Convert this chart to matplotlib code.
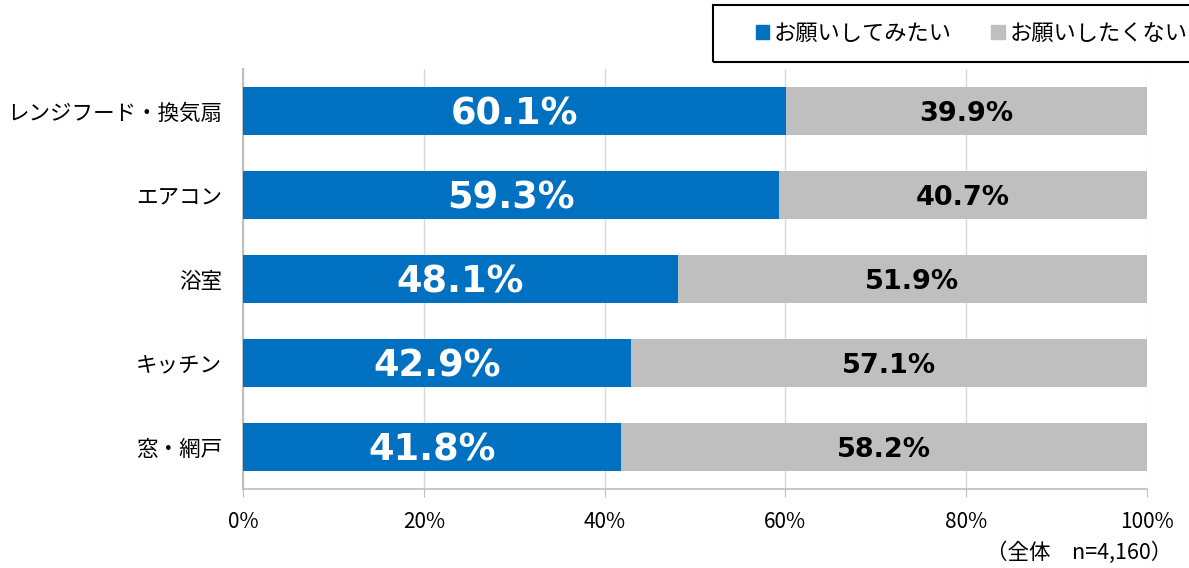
import numpy as np
import matplotlib
matplotlib.use("Agg")
from matplotlib import pyplot as plt
from matplotlib.patches import Patch, Rectangle

plt.rcParams['font.family'] = ['Noto Sans CJK JP', 'DejaVu Sans']

categories = ["レンジフード・換気扇", "エアコン", "浴室", "キッチン", "窓・網戸"]
want = [60.1, 59.3, 48.1, 42.9, 41.8]
not_want = [39.9, 40.7, 51.9, 57.1, 58.2]
series_names = ["お願いしてみたい", "お願いしたくない"]
xticks = [0, 20, 40, 60, 80, 100]
note = "（全体　n=4,160）"

blue = "#0070C0"
gray = "#BFBFBF"

fig = plt.figure(figsize=(11.89, 5.68), dpi=100)
ax = fig.add_axes([243/1189, 1-489/568, (1147-243)/1189, 420/568])

y = np.arange(len(categories))
ax.barh(y, want, height=0.56, color=blue, zorder=3)
ax.barh(y, not_want, left=want, height=0.56, color=gray, zorder=3)

for i in range(len(categories)):
    ax.text(want[i]/2, y[i] + 0.035, "%.1f%%" % want[i], ha="center", va="center",
            color="white", fontsize=26.5, fontweight="bold", family="DejaVu Sans", zorder=4)
    ax.text(want[i] + not_want[i]/2, y[i] + 0.03, "%.1f%%" % not_want[i], ha="center", va="center",
            color="black", fontsize=19.5, fontweight="bold", family="DejaVu Sans", zorder=4)

ax.set_xlim(0, 100)
ax.set_ylim(len(categories)-0.5, -0.5)
ax.set_yticks(y)
ax.set_yticklabels(categories, fontsize=15.5)
ax.set_xticks(xticks)
ax.set_xticklabels(["%d%%" % t for t in xticks], fontsize=15)
ax.tick_params(axis="y", length=0, pad=15)
ax.tick_params(axis="x", length=6, color="#BFBFBF", pad=10)
ax.grid(axis="x", color="#D9D9D9", linewidth=1, zorder=0)
for s in ["top", "right"]:
    ax.spines[s].set_visible(False)
ax.spines["left"].set_color("#BFBFBF")
ax.spines["left"].set_linewidth(1.5)
ax.spines["bottom"].set_color("#BFBFBF")
ax.spines["bottom"].set_linewidth(1.2)

# legend box, cut off at the right edge like the original
fig.patches.append(Rectangle((713/1189, 1-62/568), 0.5, 57/568, transform=fig.transFigure,
                             fill=False, edgecolor="black", linewidth=1.5))
handles = [Patch(color=blue), Patch(color=gray)]
fig.legend(handles, series_names, loc="center left", bbox_to_anchor=(749/1189, 1-33/568),
           ncol=2, frameon=False, fontsize=16, handlelength=0.6, handleheight=0.6,
           handletextpad=0.2, columnspacing=1.8, borderaxespad=0, borderpad=0.3)

fig.text(1172/1189, 1-553/568, note, ha="right", va="center", fontsize=15.5)

fig.savefig("out.png", dpi=100)
